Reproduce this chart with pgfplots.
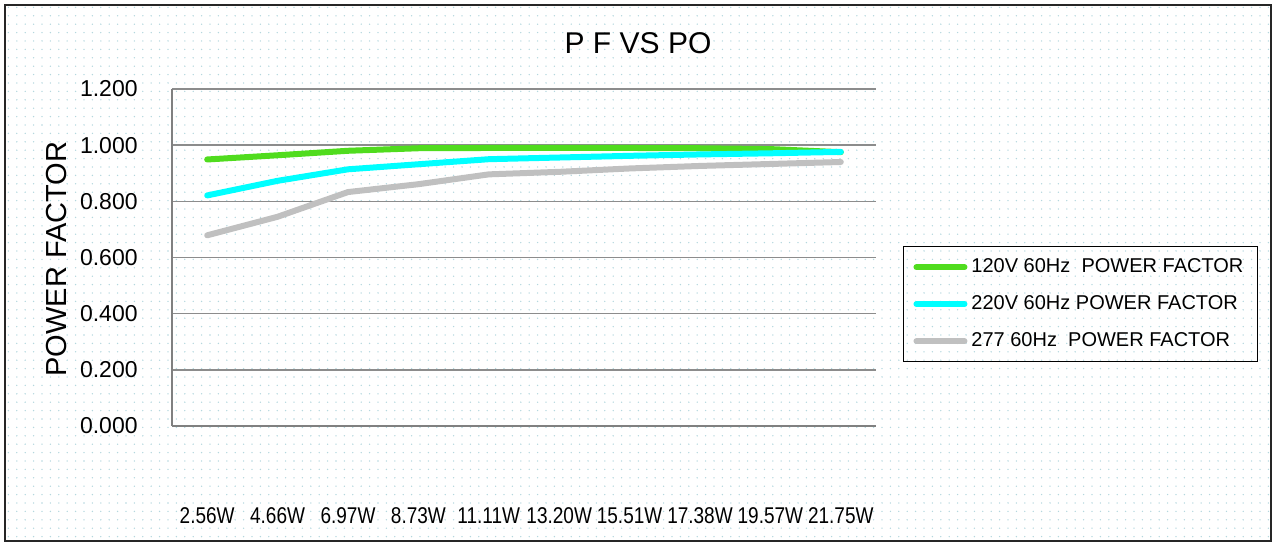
\documentclass[border=0pt]{standalone}
\usepackage{fontspec}
\setmainfont{Liberation Sans}
\usepackage{pgfplots}
\pgfplotsset{compat=1.18}
\usetikzlibrary{patterns.meta}
\definecolor{cgreen}{RGB}{80,220,30}
\definecolor{ccyan}{RGB}{0,255,255}
\definecolor{cgray}{RGB}{192,192,192}
\definecolor{gridc}{RGB}{140,140,140}
\definecolor{axc}{RGB}{128,128,128}
\definecolor{dotc}{RGB}{180,215,222}
\begin{document}
\begin{tikzpicture}[x=0.5pt,y=0.5pt]
\useasboundingbox (0,0) rectangle (1276,545);
\fill[pattern={Dots[distance=4.2pt,radius=0.38pt]}, pattern color=dotc] (5,4) rectangle (1271,540);
\draw[line width=1pt, black!85] (5,4) rectangle (1271,540);
\node[font=\fontsize{15}{18}\selectfont] at (638,502) {P F VS PO};
\node[font=\fontsize{14.5}{17}\selectfont, rotate=90] at (57,286) {POWER FACTOR};
\begin{axis}[
  at={(86pt,59.5pt)}, anchor=south west,
  scale only axis, width=352pt, height=168.5pt,
  xmin=-0.5, xmax=9.5, ymin=0, ymax=1.2,
  axis lines*=left,
  axis line style={axc, line width=1.4pt},
  xtick={0,...,9},
  xticklabels={2.56W,4.66W,6.97W,8.73W,11.11W,13.20W,15.51W,17.38W,19.57W,21.75W},
  ytick={0,0.2,...,1.2},
  ymajorgrids,
  grid style={gridc, line width=0.8pt},
  major tick length=0pt,
  tick style={draw=none},
  /pgf/number format/assume math mode=true,
  yticklabel={\pgfmathprintnumber[fixed,fixed zerofill,precision=3]{\tick}},
  yticklabel style={font=\fontsize{11.5}{14}\selectfont, anchor=east, inner sep=0pt, xshift=-17pt},
  xticklabel style={font=\fontsize{9.5}{11}\selectfont, anchor=base, inner sep=0pt, yshift=-49pt, yscale=1.2},
  legend style={at={(1.038,0.534)}, anchor=north west, draw=black, line width=0.7pt,
    fill=none, font=\fontsize{10}{12}\selectfont, row sep=6pt, inner xsep=5pt, inner ysep=4pt},
  legend cell align=left,
  legend image code/.code={\draw[#1, line cap=round] (0pt,0pt) -- (24pt,0pt);},
  clip=false,
]
\addplot[cgreen, line width=3pt, line cap=round, line join=round] coordinates {
(0,0.949) (1,0.964) (2,0.980) (3,0.989) (4,0.990) (5,0.990) (6,0.990) (7,0.989) (8,0.986) (9,0.975)};
\addlegendentry{120V 60Hz\ \ POWER FACTOR}
\addplot[ccyan, line width=3pt, line cap=round, line join=round] coordinates {
(0,0.821) (1,0.873) (2,0.914) (3,0.932) (4,0.950) (5,0.956) (6,0.962) (7,0.967) (8,0.971) (9,0.976)};
\addlegendentry{220V 60Hz POWER FACTOR}
\addplot[cgray, line width=3pt, line cap=round, line join=round] coordinates {
(0,0.679) (1,0.745) (2,0.833) (3,0.861) (4,0.896) (5,0.905) (6,0.917) (7,0.926) (8,0.933) (9,0.940)};
\addlegendentry{277 60Hz\ \ POWER FACTOR}
\end{axis}
\end{tikzpicture}
\end{document}
